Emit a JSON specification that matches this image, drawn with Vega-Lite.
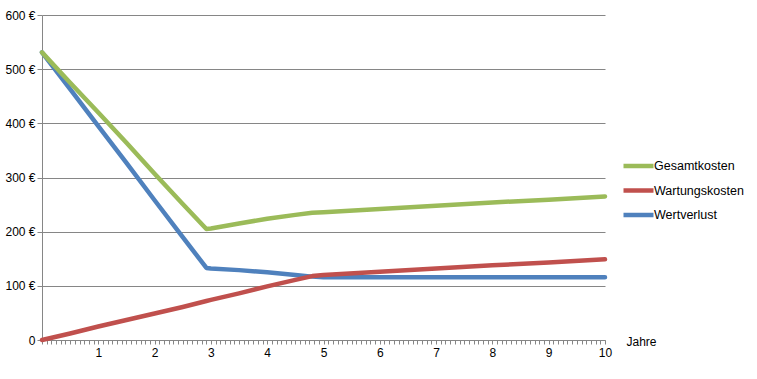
{
  "$schema": "https://vega.github.io/schema/vega-lite/v6.json",
  "autosize": "none",
  "width": 563,
  "height": 325,
  "padding": {"left": 42, "top": 15, "right": 152, "bottom": 39},
  "background": "white",
  "config": {
    "view": {"stroke": null},
    "font": "Liberation Sans",
    "axis": {"labelColor": "black", "labelFont": "Liberation Sans", "labelFontSize": 12, "domainColor": "#868686", "tickColor": "#868686", "gridColor": "#868686", "gridOpacity": 1, "domainWidth": 1, "tickWidth": 1}
  },
  "data": {"values": [
    {"t": 0, "serie": "Wertverlust", "wert": 531},
    {"t": 0.5, "serie": "Wertverlust", "wert": 463},
    {"t": 1, "serie": "Wertverlust", "wert": 395},
    {"t": 1.5, "serie": "Wertverlust", "wert": 327},
    {"t": 2, "serie": "Wertverlust", "wert": 258},
    {"t": 2.5, "serie": "Wertverlust", "wert": 190},
    {"t": 2.92, "serie": "Wertverlust", "wert": 133},
    {"t": 3, "serie": "Wertverlust", "wert": 132},
    {"t": 3.5, "serie": "Wertverlust", "wert": 129},
    {"t": 4, "serie": "Wertverlust", "wert": 125},
    {"t": 4.5, "serie": "Wertverlust", "wert": 120},
    {"t": 4.8, "serie": "Wertverlust", "wert": 117},
    {"t": 5, "serie": "Wertverlust", "wert": 116},
    {"t": 6, "serie": "Wertverlust", "wert": 116},
    {"t": 7, "serie": "Wertverlust", "wert": 116},
    {"t": 8, "serie": "Wertverlust", "wert": 116},
    {"t": 9, "serie": "Wertverlust", "wert": 116},
    {"t": 10, "serie": "Wertverlust", "wert": 116},
    {"t": 0, "serie": "Wartungskosten", "wert": 0},
    {"t": 0.5, "serie": "Wartungskosten", "wert": 12},
    {"t": 1, "serie": "Wartungskosten", "wert": 25},
    {"t": 1.5, "serie": "Wartungskosten", "wert": 37},
    {"t": 2, "serie": "Wartungskosten", "wert": 49},
    {"t": 2.5, "serie": "Wartungskosten", "wert": 61},
    {"t": 2.92, "serie": "Wartungskosten", "wert": 72},
    {"t": 3, "serie": "Wartungskosten", "wert": 74},
    {"t": 3.5, "serie": "Wartungskosten", "wert": 86},
    {"t": 4, "serie": "Wartungskosten", "wert": 99},
    {"t": 4.5, "serie": "Wartungskosten", "wert": 111},
    {"t": 4.8, "serie": "Wartungskosten", "wert": 118},
    {"t": 5, "serie": "Wartungskosten", "wert": 120},
    {"t": 6, "serie": "Wartungskosten", "wert": 126},
    {"t": 7, "serie": "Wartungskosten", "wert": 132},
    {"t": 8, "serie": "Wartungskosten", "wert": 138},
    {"t": 9, "serie": "Wartungskosten", "wert": 143},
    {"t": 10, "serie": "Wartungskosten", "wert": 149},
    {"t": 0, "serie": "Gesamtkosten", "wert": 531},
    {"t": 0.5, "serie": "Gesamtkosten", "wert": 475},
    {"t": 1, "serie": "Gesamtkosten", "wert": 420},
    {"t": 1.5, "serie": "Gesamtkosten", "wert": 364},
    {"t": 2, "serie": "Gesamtkosten", "wert": 307},
    {"t": 2.5, "serie": "Gesamtkosten", "wert": 251},
    {"t": 2.92, "serie": "Gesamtkosten", "wert": 205},
    {"t": 3, "serie": "Gesamtkosten", "wert": 206},
    {"t": 3.5, "serie": "Gesamtkosten", "wert": 215},
    {"t": 4, "serie": "Gesamtkosten", "wert": 224},
    {"t": 4.5, "serie": "Gesamtkosten", "wert": 231},
    {"t": 4.8, "serie": "Gesamtkosten", "wert": 235},
    {"t": 5, "serie": "Gesamtkosten", "wert": 236},
    {"t": 6, "serie": "Gesamtkosten", "wert": 242},
    {"t": 7, "serie": "Gesamtkosten", "wert": 248},
    {"t": 8, "serie": "Gesamtkosten", "wert": 254},
    {"t": 9, "serie": "Gesamtkosten", "wert": 259},
    {"t": 10, "serie": "Gesamtkosten", "wert": 265}
  ]},
  "mark": {"type": "line", "strokeWidth": 4.5, "strokeCap": "round", "strokeJoin": "round"},
  "encoding": {
    "x": {
      "field": "t", "type": "quantitative",
      "scale": {"domain": [0, 10], "nice": false, "zero": false},
      "axis": {
        "title": "Jahre", "titleFont": "Liberation Sans", "titleFontSize": 12, "titleFontWeight": "normal", "titleColor": "black",
        "titleAnchor": "start", "titleAlign": "left", "titleBaseline": "middle", "titleX": 584, "titleY": 1, "titlePadding": 0,
        "grid": false, "tickSize": 4, "labelPadding": 3, "labelOverlap": false, "labelFlush": false,
        "labelExpr": "datum.value >= 1 && abs(datum.value - round(datum.value)) < 0.001 ? format(datum.value, 'd') : ''",
        "values": [0,0.0833,0.1667,0.25,0.3333,0.4167,0.5,0.5833,0.6667,0.75,0.8333,0.9167,
          1,1.0833,1.1667,1.25,1.3333,1.4167,1.5,1.5833,1.6667,1.75,1.8333,1.9167,
          2,2.0833,2.1667,2.25,2.3333,2.4167,2.5,2.5833,2.6667,2.75,2.8333,2.9167,
          3,3.0833,3.1667,3.25,3.3333,3.4167,3.5,3.5833,3.6667,3.75,3.8333,3.9167,
          4,4.0833,4.1667,4.25,4.3333,4.4167,4.5,4.5833,4.6667,4.75,4.8333,4.9167,
          5,5.0833,5.1667,5.25,5.3333,5.4167,5.5,5.5833,5.6667,5.75,5.8333,5.9167,
          6,6.0833,6.1667,6.25,6.3333,6.4167,6.5,6.5833,6.6667,6.75,6.8333,6.9167,
          7,7.0833,7.1667,7.25,7.3333,7.4167,7.5,7.5833,7.6667,7.75,7.8333,7.9167,
          8,8.0833,8.1667,8.25,8.3333,8.4167,8.5,8.5833,8.6667,8.75,8.8333,8.9167,
          9,9.0833,9.1667,9.25,9.3333,9.4167,9.5,9.5833,9.6667,9.75,9.8333,9.9167,10]
      }
    },
    "y": {
      "field": "wert", "type": "quantitative",
      "scale": {"domain": [0, 600], "nice": false},
      "axis": {
        "title": null, "values": [0, 100, 200, 300, 400, 500, 600], "tickSize": 5, "labelPadding": 2,
        "labelExpr": "datum.value == 0 ? '0' : datum.value + ' €'"
      }
    },
    "color": {
      "field": "serie", "type": "nominal",
      "scale": {"domain": ["Gesamtkosten", "Wartungskosten", "Wertverlust"], "range": ["#9BBB59", "#C0504D", "#4F81BD"]},
      "legend": {
        "title": null, "orient": "none", "legendX": 579, "legendY": 141,
        "symbolType": "stroke", "symbolSize": 900, "symbolStrokeWidth": 4.5,
        "labelFont": "Liberation Sans", "labelFontSize": 12.5, "labelColor": "black", "labelOffset": -2,
        "clipHeight": 20, "rowPadding": 4.5
      }
    }
  }
}
